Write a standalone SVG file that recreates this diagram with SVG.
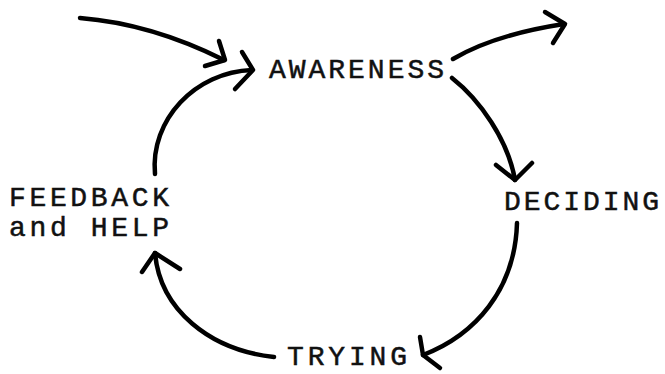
<svg xmlns="http://www.w3.org/2000/svg" width="665" height="374" viewBox="0 0 665 374">
<style>
.lbl{font-family:"Liberation Mono","Courier New",monospace;font-size:28px;fill:#111;stroke:#111;stroke-width:0.5}
.c{fill:none;stroke:#000;stroke-width:4.5;stroke-linecap:round;stroke-linejoin:round}
</style>
<rect width="665" height="374" fill="#fff"/>
<g id="connectors">
<path class="c" d="M80,18 C130,22 180,38 224,60"/>
<path class="c" d="M219,41 L225,60 L205,66"/>
<path class="c" d="M155,174 C150,120 195,72 252,70"/>
<path class="c" d="M242,52 L253,70 L235,89"/>
<path class="c" d="M453,59 C485,40 525,30 564,24"/>
<path class="c" d="M545,12 L565,24 L553,43"/>
<path class="c" d="M452,78 C480,100 508,140 515,180"/>
<path class="c" d="M496,165 L515,180 L532,163"/>
<path class="c" d="M517,223 C515,290 475,335 423,355"/>
<path class="c" d="M420,337 L423,355 L440,368"/>
<path class="c" d="M274,357 C210,350 160,310 155,253"/>
<path class="c" d="M142,272 L155,253 L180,269"/>
</g>
<g id="awareness"><text class="lbl" x="269" y="78" textLength="175" lengthAdjust="spacing">AWARENESS</text></g>
<g id="deciding"><text class="lbl" x="504" y="210" textLength="155" lengthAdjust="spacing">DECIDING</text></g>
<g id="feedback"><text class="lbl" x="9" y="206" textLength="160" lengthAdjust="spacing">FEEDBACK</text><text class="lbl" x="9" y="236" textLength="160" lengthAdjust="spacing">and HELP</text></g>
<g id="trying"><text class="lbl" x="287" y="365" textLength="120" lengthAdjust="spacing">TRYING</text></g>
</svg>
